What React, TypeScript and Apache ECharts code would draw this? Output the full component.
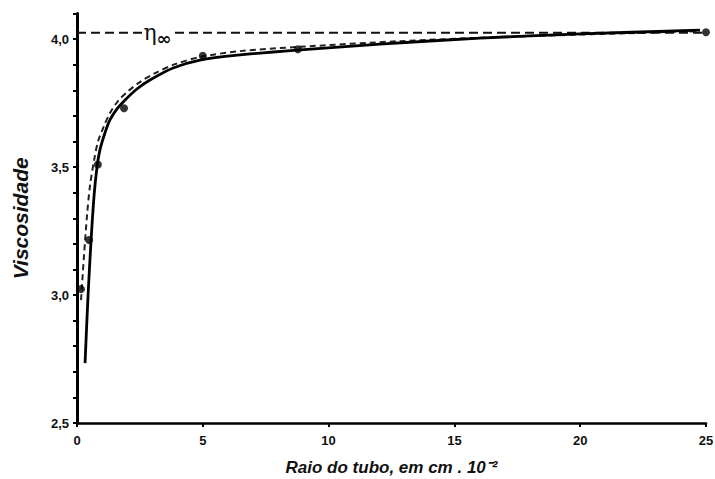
import React, { useEffect, useRef } from "react";
import * as echarts from "echarts";

const solidCurve: [number, number][] = [
  [0.32, 2.734], [0.44, 3.0], [0.56, 3.215], [0.68, 3.39], [0.79, 3.496],
  [0.91, 3.566], [1.11, 3.633], [1.31, 3.684], [1.59, 3.727], [1.91, 3.762],
  [2.38, 3.805], [2.9, 3.84], [3.82, 3.887], [4.89, 3.918], [6.48, 3.938],
  [8.74, 3.957], [12.04, 3.98], [16.02, 4.004], [19.99, 4.02], [24.76, 4.035],
];
const dashedCurve: [number, number][] = [
  [0.16, 2.98], [0.28, 3.156], [0.4, 3.313], [0.52, 3.43], [0.68, 3.527],
  [0.83, 3.598], [1.07, 3.66], [1.31, 3.711], [1.63, 3.758], [1.99, 3.793],
  [2.5, 3.832], [3.1, 3.867], [3.9, 3.902], [4.89, 3.93], [6.48, 3.953],
  [8.74, 3.969], [12.84, 3.992], [16.81, 4.008], [20.79, 4.02], [24.76, 4.031],
];
const measuredPoints: [number, number][] = [
  [0.16, 3.023], [0.48, 3.215], [0.83, 3.51], [1.87, 3.73],
  [5.0, 3.935], [8.78, 3.96], [25.0, 4.027],
];
const etaInfinity = 4.025;
const etaLabelX = 3.2;
const xTicks = [0, 5, 10, 15, 20, 25];

const FONT = "'Liberation Sans', Arial, sans-serif";

export default function App() {
  const ref = useRef<HTMLDivElement>(null);
  useEffect(() => {
    if (!ref.current) return;
    const chart = echarts.init(ref.current, undefined, { renderer: "svg" });
    chart.setOption({
      animation: false,
      backgroundColor: "#fff",
      grid: { left: 77, right: 9, top: 13.5, bottom: 56, containLabel: false, outerBoundsMode: "none" },
      xAxis: {
        type: "value",
        min: xTicks[0],
        max: xTicks[xTicks.length - 1],
        interval: 5,
        splitLine: { show: false },
        axisLine: { lineStyle: { color: "#000", width: 2.5 } },
        axisTick: { show: true, length: 4, lineStyle: { color: "#000", width: 2 } },
        axisLabel: { color: "#111", fontFamily: FONT, fontWeight: "bold", fontSize: 13, margin: 11 },
        name: "Raio do tubo, em cm . 10⁻²",
        nameLocation: "middle",
        nameGap: 36,
        nameTextStyle: { color: "#111", fontFamily: FONT, fontWeight: "bold", fontStyle: "italic", fontSize: 17 },
      },
      yAxis: {
        type: "value",
        min: 2.5,
        max: 4.1,
        interval: 0.1,
        splitLine: { show: false },
        axisLine: { show: true, lineStyle: { color: "#000", width: 3 } },
        axisTick: { show: true, length: 4, lineStyle: { color: "#000", width: 2 } },
        axisLabel: {
          color: "#111",
          fontFamily: FONT,
          fontWeight: "bold",
          fontSize: 13,
          margin: 8,
          formatter: (v: number) => {
            const r = Math.round(v * 10);
            return r % 5 === 0 ? (r / 10).toFixed(1).replace(".", ",") : "";
          },
        },
        name: "Viscosidade",
        nameLocation: "middle",
        nameRotate: 90,
        nameGap: 46,
        nameTextStyle: { color: "#111", fontFamily: FONT, fontWeight: "bold", fontStyle: "italic", fontSize: 21 },
      },
      series: [
        {
          type: "line",
          data: [[0, etaInfinity], [25, etaInfinity]],
          symbol: "none",
          lineStyle: { color: "#111", width: 2, type: [9, 5] },
          markPoint: {
            symbol: "rect",
            symbolSize: [28, 24],
            itemStyle: { color: "#fff" },
            data: [
              {
                coord: [etaLabelX, etaInfinity],
                label: {
                  show: true,
                  position: "inside",
                  formatter: "{a|η}{b|∞}",
                  rich: {
                    a: { fontFamily: "'DejaVu Serif', serif", fontSize: 22, color: "#111" },
                    b: { fontFamily: "'DejaVu Sans', sans-serif", fontSize: 18, color: "#111", fontWeight: "bold", padding: [12, 0, 0, 0] },
                  },
                },
              },
            ],
          },
          z: 1,
        },
        {
          type: "line",
          data: dashedCurve,
          symbol: "none",
          smooth: 0.3,
          lineStyle: { color: "#222", width: 2, type: [6, 4] },
          z: 2,
        },
        {
          type: "line",
          data: solidCurve,
          symbol: "none",
          smooth: 0.3,
          lineStyle: { color: "#000", width: 2.8 },
          z: 3,
        },
        {
          type: "scatter",
          data: measuredPoints,
          symbolSize: 8,
          itemStyle: { color: "#000" },
          z: 4,
        },
      ],
    });
    return () => chart.dispose();
  }, []);
  return (
    <div
      ref={ref}
      style={{ position: "absolute", left: 0, top: 0, width: 715, height: 479 }}
    />
  );
}
